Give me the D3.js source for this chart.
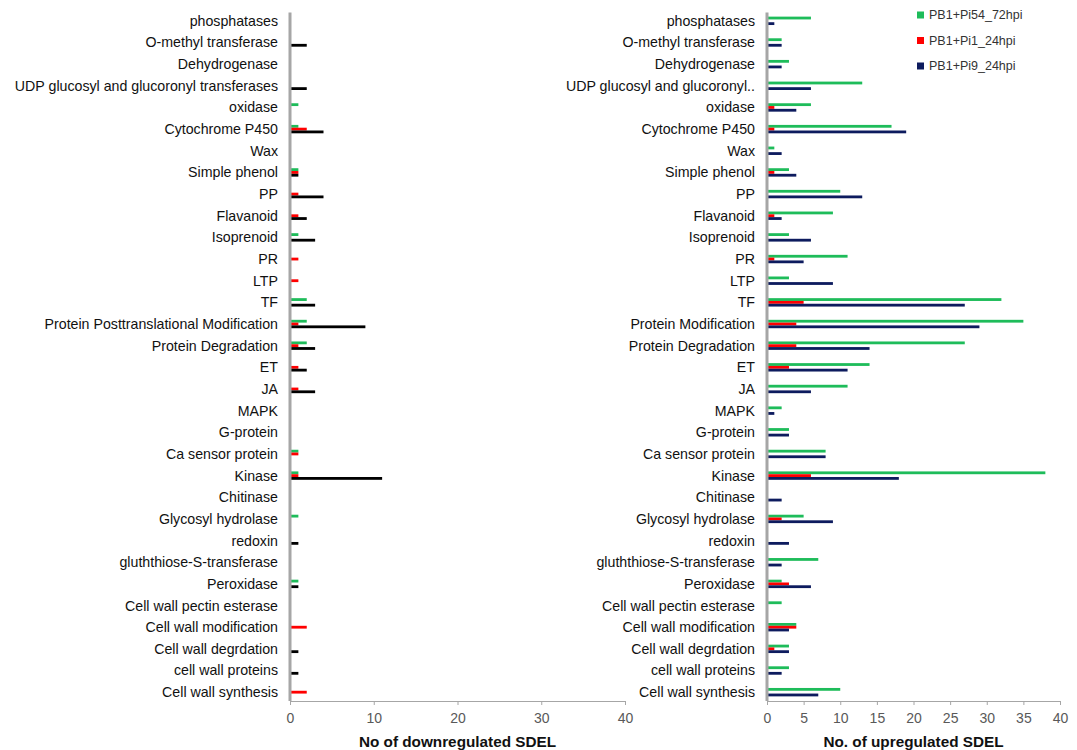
<!DOCTYPE html>
<html>
<head>
<meta charset="utf-8">
<script src="https://cdn.jsdelivr.net/npm/d3@7"></script>
<style>
  body { margin: 0; background: #fff; }
  svg { font-family: "Liberation Sans", Arial, sans-serif; }
</style>
</head>
<body>
<svg id="chart" width="1077" height="750"></svg>
<script>
// categories, top to bottom
var catsDown = ["phosphatases", "O-methyl transferase", "Dehydrogenase", "UDP glucosyl and glucoronyl transferases",
  "oxidase", "Cytochrome P450", "Wax", "Simple phenol", "PP", "Flavanoid", "Isoprenoid", "PR", "LTP", "TF",
  "Protein Posttranslational Modification", "Protein Degradation", "ET", "JA", "MAPK", "G-protein",
  "Ca sensor protein", "Kinase", "Chitinase", "Glycosyl hydrolase", "redoxin", "gluththiose-S-transferase",
  "Peroxidase", "Cell wall pectin esterase", "Cell wall modification", "Cell wall degrdation",
  "cell wall proteins", "Cell wall synthesis"];

var catsUp = ["phosphatases", "O-methyl transferase", "Dehydrogenase", "UDP glucosyl and glucoronyl..",
  "oxidase", "Cytochrome P450", "Wax", "Simple phenol", "PP", "Flavanoid", "Isoprenoid", "PR", "LTP", "TF",
  "Protein Modification", "Protein Degradation", "ET", "JA", "MAPK", "G-protein",
  "Ca sensor protein", "Kinase", "Chitinase", "Glycosyl hydrolase", "redoxin", "gluththiose-S-transferase",
  "Peroxidase", "Cell wall pectin esterase", "Cell wall modification", "Cell wall degrdation",
  "cell wall proteins", "Cell wall synthesis"];

var seriesNames = ["PB1+Pi54_72hpi", "PB1+Pi1_24hpi", "PB1+Pi9_24hpi"];

// downregulated
var downPi54 = [0,0,0,0,1,1,0,1,0,0,1,0,0,2,2,2,0,0,0,0,1,1,0,1,0,0,1,0,0,0,0,0];
var downPi1  = [0,0,0,0,0,2,0,1,1,1,0,1,1,0,1,1,1,1,0,0,1,1,0,0,0,0,0,0,2,0,0,2];
var downPi9  = [0,2,0,2,0,4,0,1,4,2,3,0,0,3,9,3,2,3,0,0,0,11,0,0,1,0,1,0,0,1,1,0];

// upregulated
var upPi54 = [6,2,3,13,6,17,1,3,10,9,3,11,3,32,35,27,14,11,2,3,8,38,0,5,0,7,2,2,4,3,3,10];
var upPi1  = [0,0,0,0,1,1,0,1,0,1,0,1,0,5,4,4,3,0,0,0,0,6,0,2,0,0,3,0,4,1,0,0];
var upPi9  = [1,2,2,6,4,19,2,4,13,2,6,5,9,27,29,14,11,6,1,3,8,18,2,9,3,2,6,0,3,3,2,7];

var xTicksDown = [0, 10, 20, 30, 40];
var xTicksUp = [0, 5, 10, 15, 20, 25, 30, 35, 40];

var svg = d3.select("#chart");

function drawPanel(cats, s1, s2, s3, colors, x0, x1, ticks, title) {
  var top = 10, bottom = 703, axisY = 701;

  var y = d3.scaleBand().domain(cats).range([top, bottom]);
  var x = d3.scaleLinear().domain([0, 40]).range([x0, x1]);
  var bh = 2.8;

  var g = svg.append("g");

  // x axis
  var xAxis = d3.axisBottom(x).tickValues(ticks).tickSize(4).tickSizeOuter(0);
  var ax = g.append("g")
      .attr("transform", "translate(0," + axisY + ")")
      .call(xAxis);
  ax.select(".domain").attr("stroke", "#a6a6a6");
  ax.selectAll(".tick line").attr("stroke", "#a6a6a6");
  ax.selectAll(".tick text")
      .attr("fill", "#595959")
      .attr("font-size", 14)
      .attr("dy", "1.05em");

  // bars
  var series = [s1, s2, s3];
  series.forEach(function(vals, si) {
    g.selectAll(".bar" + si)
      .data(vals)
      .enter().append("rect")
        .attr("x", x(0))
        .attr("y", function(d, i) { return y(cats[i]) + y.bandwidth() / 2 - 1.5 * bh + si * bh; })
        .attr("width", function(d) { return x(d) - x(0); })
        .attr("height", bh)
        .attr("fill", colors[si]);
  });

  // y axis line
  g.append("line")
      .attr("x1", x0).attr("x2", x0)
      .attr("y1", 12.5).attr("y2", axisY)
      .attr("stroke", "#a6a6a6")
      .attr("stroke-width", 3);

  // category labels
  g.selectAll(".lab")
    .data(cats)
    .enter().append("text")
      .attr("x", x0 - 12)
      .attr("y", function(d) { return y(d) + y.bandwidth() / 2; })
      .attr("dy", "0.35em")
      .attr("text-anchor", "end")
      .attr("font-size", 14.2)
      .attr("fill", "#111")
      .text(function(d) { return d; });

  // axis title
  g.append("text")
      .attr("x", (x0 + x1) / 2)
      .attr("y", 747)
      .attr("text-anchor", "middle")
      .attr("font-size", 15.3)
      .attr("font-weight", "bold")
      .attr("fill", "#111")
      .text(title);
}

drawPanel(catsDown, downPi54, downPi1, downPi9, ["#1ebc5a", "#ff0000", "#000000"],
  290, 625, xTicksDown, "No of downregulated SDEL");

drawPanel(catsUp, upPi54, upPi1, upPi9, ["#1ebc5a", "#ff0000", "#0d1b5e"],
  767, 1060, xTicksUp, "No. of upregulated SDEL");

// legend
var legColors = ["#1ebc5a", "#ff0000", "#0d1b5e"];
var leg = svg.append("g").attr("transform", "translate(917,0)");
seriesNames.forEach(function(name, i) {
  var ly = 15 + i * 25.5;
  leg.append("rect")
      .attr("x", 0).attr("y", ly - 3.5)
      .attr("width", 7).attr("height", 7)
      .attr("fill", legColors[i]);
  leg.append("text")
      .attr("x", 12).attr("y", ly)
      .attr("dy", "0.35em")
      .attr("font-size", 12.5)
      .attr("fill", "#333")
      .text(name);
});
</script>
</body>
</html>
